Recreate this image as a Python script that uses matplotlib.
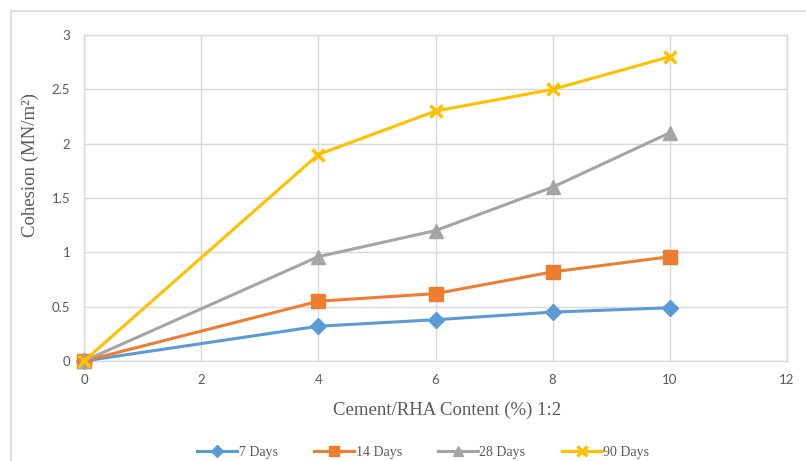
import numpy as np
import matplotlib
matplotlib.use("Agg")
import matplotlib.pyplot as plt
from matplotlib.patches import Rectangle

# data
content = [0, 4, 6, 8, 10]
days_7 = [0, 0.32, 0.38, 0.45, 0.49]
days_14 = [0, 0.55, 0.62, 0.82, 0.96]
days_28 = [0, 0.96, 1.2, 1.6, 2.1]
days_90 = [0, 1.9, 2.3, 2.5, 2.8]
x_ticks = [0, 2, 4, 6, 8, 10, 12]
y_ticks = [0, 0.5, 1, 1.5, 2, 2.5, 3]
y_tick_labels = ["0", "0.5", "1", "1.5", "2", "2.5", "3"]

serif = "Liberation Serif"
grid_c = "#D9D9D9"
text_c = "#595959"

fig = plt.figure(figsize=(8.06, 4.61), dpi=100)
ax = fig.add_axes([84/806, 1-361/461, (787-84)/806, (361-35)/461])

# outer chart border
fig.patches.append(Rectangle((11/806, -0.1), 1.2, (461-11)/461 + 0.1,
                             transform=fig.transFigure, fill=False,
                             edgecolor=grid_c, linewidth=1.2))

ax.plot(content, days_7, c="#5B9BD5", lw=2.2, marker="D", ms=8, label="7 Days", zorder=3, clip_on=False)
ax.plot(content, days_14, c="#ED7D31", lw=2.2, marker="s", ms=9.5, label="14 Days", zorder=3, clip_on=False)
ax.plot(content, days_28, c="#A5A5A5", lw=2.2, marker="^", ms=10, label="28 Days", zorder=3, clip_on=False)
ax.plot(content, days_90, c="#FFC000", lw=2.2, marker="x", ms=9, mew=2.5, label="90 Days", zorder=3, clip_on=False)

ax.set_xlim(0, 12)
ax.set_ylim(0, 3)
ax.set_xticks(x_ticks)
ax.set_yticks(y_ticks)
ax.set_yticklabels(y_tick_labels)
ax.tick_params(length=0, labelsize=9.5, labelcolor=text_c)
ax.tick_params(axis="y", pad=10)
ax.tick_params(axis="x", pad=9)
for lab in ax.get_xticklabels() + ax.get_yticklabels():
    lab.set_fontfamily("Lato")
ax.grid(color=grid_c, lw=1)
ax.set_axisbelow(True)
for s in ax.spines.values():
    s.set_color(grid_c)
    s.set_linewidth(1)

ax.set_xlabel("Cement/RHA Content (%) 1:2", family=serif, fontsize=13.5, color=text_c, va="center")
ax.xaxis.set_label_coords(0.516, -0.15)
ax.set_ylabel("Cohesion (MN/m²)", family=serif, fontsize=13.5, color=text_c, va="center")
ax.yaxis.set_label_coords(-0.077, 0.6)

leg = fig.legend(loc="center", bbox_to_anchor=(0.525, 1-452/461), ncols=4, frameon=False,
                 prop={"family": serif, "size": 10}, handlelength=2.9, columnspacing=2.6,
                 handletextpad=0.1, borderaxespad=0, markerscale=0.75)
for t in leg.get_texts():
    t.set_color(text_c)

fig.savefig("out.png", dpi=100)
